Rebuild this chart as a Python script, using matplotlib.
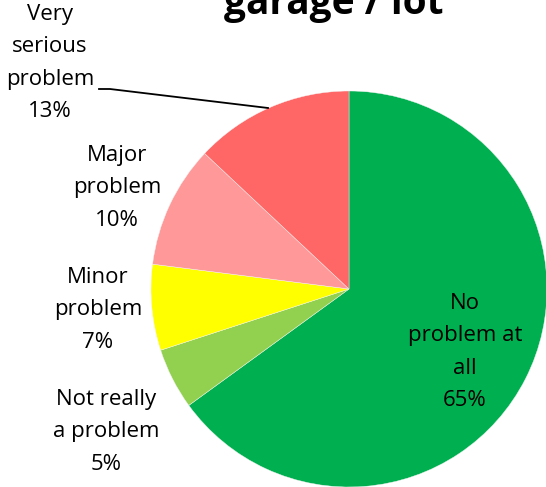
import matplotlib
matplotlib.use("Agg")
import matplotlib.pyplot as plt

categories = ["No\nproblem at\nall", "Not really\na problem", "Minor\nproblem", "Major\nproblem", "Very\nserious\nproblem"]
values = [65, 5, 7, 10, 13]
colors = ["#00B050", "#92D050", "#FFFF00", "#FF9999", "#FF6666"]
title = "garage / lot"

W, H = 546, 487
fig = plt.figure(figsize=(W / 100, H / 100), dpi=100)
ax = fig.add_axes([0, 0, 1, 1])
ax.set_xlim(0, W)
ax.set_ylim(0, H)
ax.set_aspect("equal")
ax.axis("off")

cx, cy, r = 349, H - 289, 198
ax.pie(values, colors=colors, startangle=90, counterclock=False,
       center=(cx, cy), radius=r, frame=True,
       wedgeprops=dict(linewidth=0.3, edgecolor="#f4f4f4"))
ax.set_xlim(0, W)
ax.set_ylim(0, H)
ax.axis("off")

font = "Open Sans"
label_pos = [(465, 352), (106, 432), (98, 310), (117, 188), (50, 63)]
for cat, v, (x, y) in zip(categories, values, label_pos):
    ax.text(x, H - y, f"{cat}\n{v}%", ha="center", va="center",
            fontsize=16, family=font, linespacing=1.72, color="black")

ax.plot([99, 110, 268], [H - 89, H - 89, H - 108], color="black", lw=1.3)

ax.text(334, H - 14, title, ha="center", va="baseline", fontsize=28,
        fontweight="bold", family=font)

fig.savefig("out.png", dpi=100)
